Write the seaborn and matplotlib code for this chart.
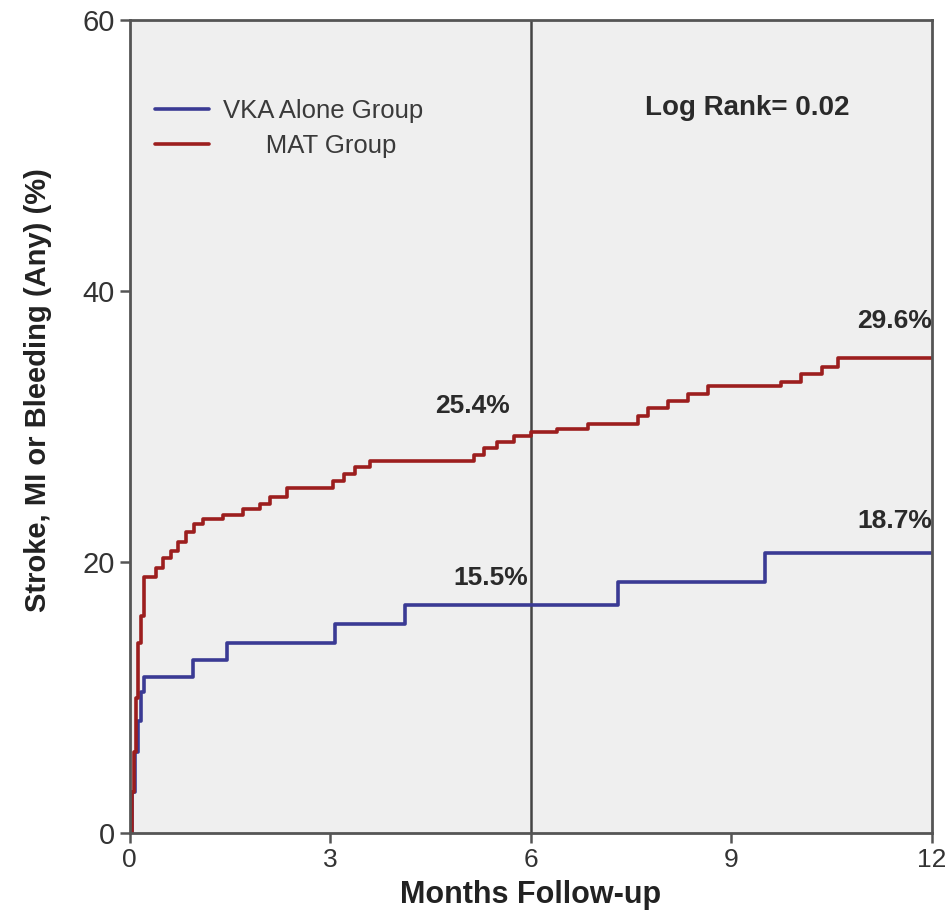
import pandas as pd
import seaborn as sns
import matplotlib.pyplot as plt

# Cumulative event curves (step functions)
mat_months = [0, 0.03, 0.06, 0.09, 0.12, 0.17, 0.22, 0.40, 0.50, 0.62, 0.72, 0.85,
              0.97, 1.10, 1.40, 1.70, 1.95, 2.10, 2.35, 3.05, 3.20, 3.37, 3.60,
              5.15, 5.30, 5.50, 5.75, 6.00, 6.40, 6.85, 7.60, 7.75, 8.05, 8.35,
              8.65, 9.75, 10.05, 10.35, 10.60, 12.0]
mat_pct = [0, 3, 6, 10, 14, 16, 18.9, 19.6, 20.3, 20.8, 21.5, 22.2,
           22.8, 23.2, 23.5, 23.9, 24.3, 24.8, 25.5, 26.0, 26.5, 27.0, 27.5,
           27.9, 28.4, 28.9, 29.3, 29.6, 29.8, 30.2, 30.8, 31.4, 31.9, 32.4,
           33.0, 33.3, 33.9, 34.4, 35.1, 35.1]

vka_months = [0, 0.04, 0.08, 0.12, 0.17, 0.22, 0.95, 1.45, 3.07, 4.12, 7.30, 9.50, 12.0]
vka_pct = [0, 3, 6, 8.3, 10.4, 11.5, 12.8, 14.0, 15.4, 16.8, 18.5, 20.7, 20.7]

groups = ["VKA Alone Group", "MAT Group"]
legend_labels = ["VKA Alone Group", "      MAT Group"]
colors = ["#3a3a94", "#9c1e1e"]

# annotations: (x, y, text)
annot_x = [5.13, 5.40, 11.44, 11.44]
annot_y = [31.5, 18.8, 37.8, 23.0]
annot_txt = ["25.4%", "15.5%", "29.6%", "18.7%"]

df = pd.concat([
    pd.DataFrame({"Months": vka_months, "Pct": vka_pct, "Group": groups[0]}),
    pd.DataFrame({"Months": mat_months, "Pct": mat_pct, "Group": groups[1]}),
], ignore_index=True)

sns.set_style("ticks")
plt.rcParams["font.family"] = ["Liberation Sans", "DejaVu Sans"]

fig = plt.figure(figsize=(9.46, 9.22), dpi=100)
ax = fig.add_axes([0.137, 0.0965, 0.848, 0.8815])
ax.set_facecolor("#efefef")

sns.lineplot(data=df, x="Months", y="Pct", hue="Group", hue_order=groups,
             palette=colors, drawstyle="steps-post", linewidth=2.6,
             estimator=None, sort=False, ax=ax)

ax.axvline(6, color="#444444", linewidth=1.8, zorder=1)

for x, y, t in zip(annot_x, annot_y, annot_txt):
    ax.text(x, y, t, ha="center", va="center", fontsize=19,
            fontweight="bold", color="#2a2a2a")
ax.text(9.24, 53.5, "Log Rank= 0.02", ha="center", va="center",
        fontsize=20, fontweight="bold", color="#2a2a2a")

handles, _ = ax.get_legend_handles_labels()
ax.legend(handles, legend_labels, loc="upper left",
          bbox_to_anchor=(0.003, 0.932), frameon=False, fontsize=18.5,
          handlelength=2.1, handletextpad=0.55, labelspacing=0.45,
          labelcolor="#3a3a3a")

ax.set_xlim(0, 12)
ax.set_ylim(0, 60)
ax.set_xticks([0, 3, 6, 9, 12])
ax.set_yticks([0, 20, 40, 60])
ax.tick_params(axis="both", colors="#555555", labelcolor="#333333",
               length=7, width=1.8)
ax.tick_params(axis="y", labelsize=21)
ax.tick_params(axis="x", labelsize=19)

for s in ax.spines.values():
    s.set_color("#555555")
    s.set_linewidth(2)

ax.set_xlabel("Months Follow-up", fontsize=22, fontweight="bold",
              color="#222222", labelpad=6)
ax.set_ylabel("Stroke, MI or Bleeding (Any) (%)", fontsize=21,
              fontweight="bold", color="#222222")
ax.yaxis.set_label_coords(-0.097, 0.545)

fig.savefig("out.png", dpi=100)
